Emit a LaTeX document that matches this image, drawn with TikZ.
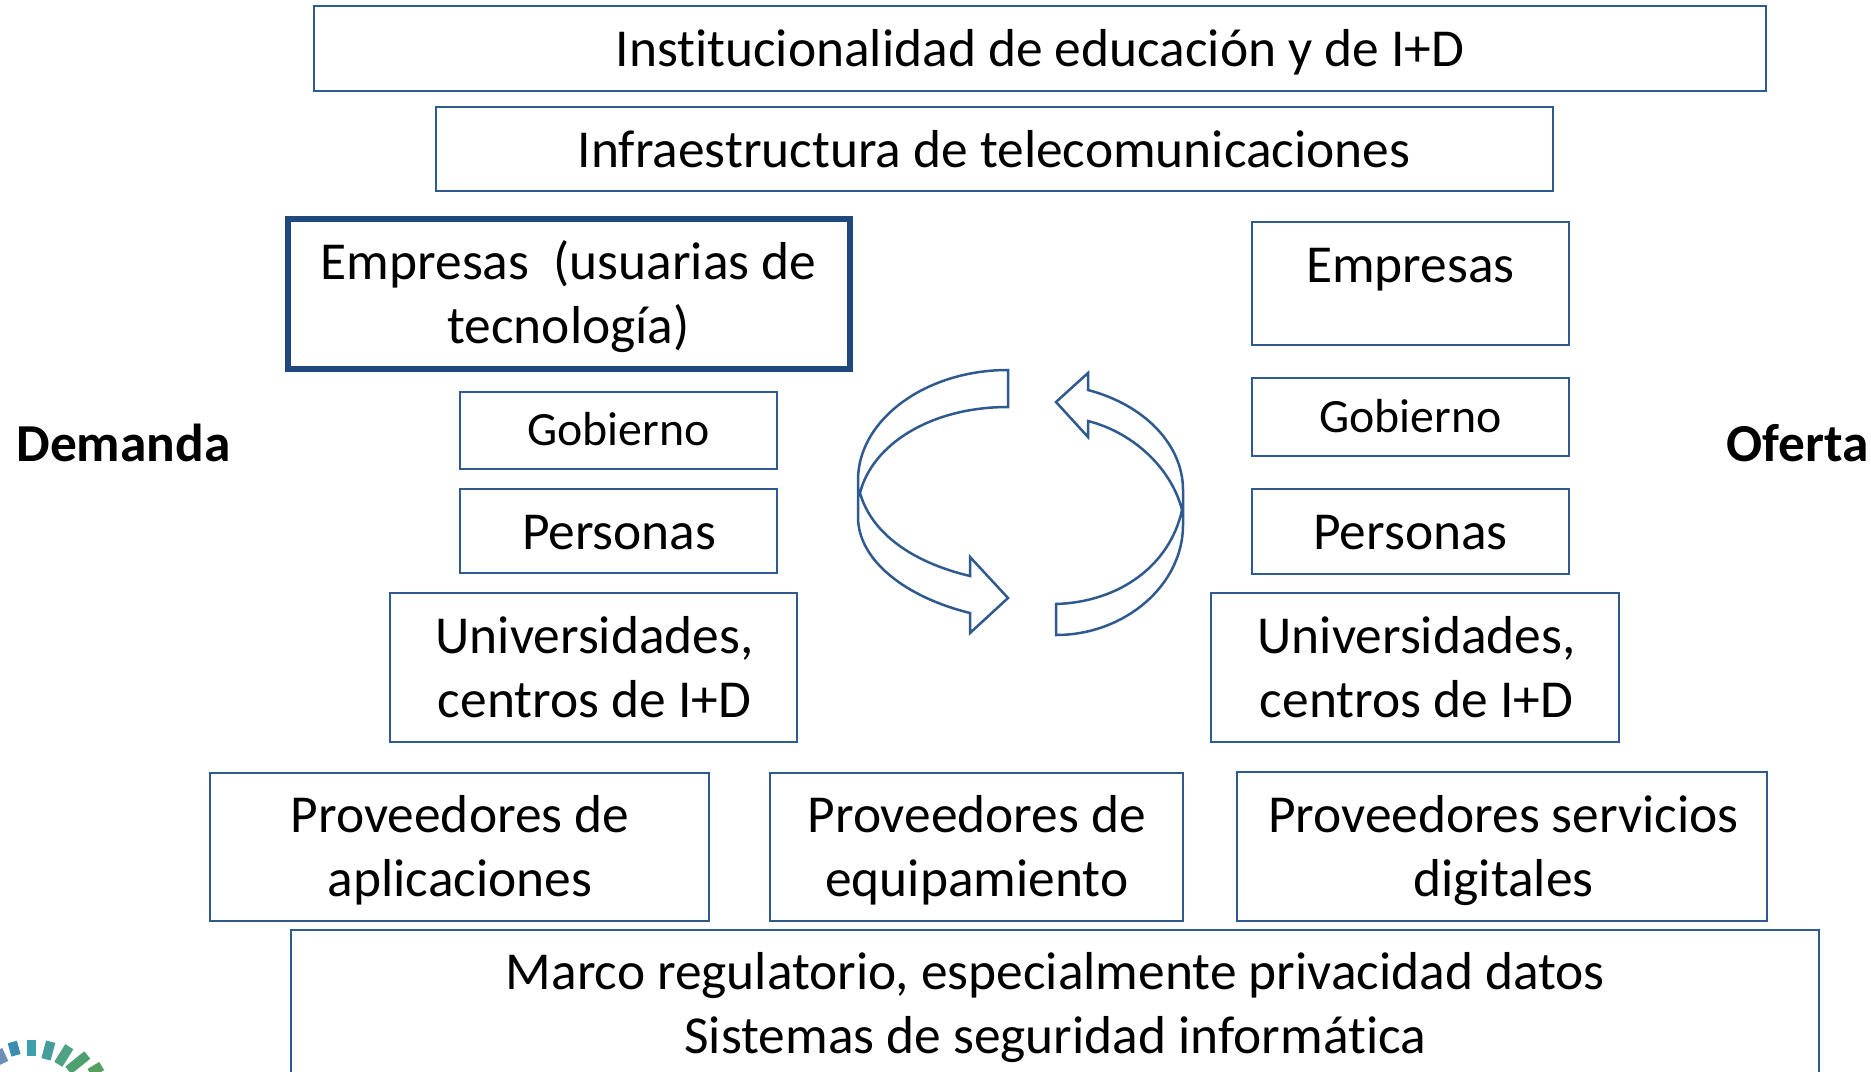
\documentclass[tikz,border=0pt]{standalone}
\usepackage{fontspec}
\setmainfont[Ligatures=NoCommon]{Carlito}
\definecolor{bl}{HTML}{2F5A8F}
\definecolor{blt}{HTML}{1F497D}
\tikzset{x=1pt,y=-1pt,
 box/.style={draw=bl,line width=2pt,fill=white,inner sep=0pt},
 txt/.style={inner sep=0pt,align=center,text=black,font=\fontsize{53.4}{64}\selectfont},
 smalltxt/.style={txt,font=\fontsize{47.8}{58}\selectfont},
 side/.style={text=black,inner sep=0pt,font=\bfseries\fontsize{53.4}{64}\selectfont},
 turn/.style={draw=bl,line width=2.5pt,fill=white,line join=miter},
 tick/.style={line width=9.5pt}}
\begin{document}
\begin{tikzpicture}
\clip (0,0) rectangle (1871,1071);
\fill[white] (0,0) rectangle (1871,1071);
\node[box,minimum width=1452pt,minimum height=85pt,label={[txt,yshift=-3.6pt]center:Institucionalidad de educación y de I+D}] (inst) at (1040,48.5) {};
\node[box,minimum width=1117pt,minimum height=84pt,label={[txt]center:Infraestructura de telecomunicaciones}] (infra) at (994,149) {};
\node[box,draw=blt,line width=6pt,minimum width=562pt,minimum height=149.5pt,label={[txt,yshift=-2.5pt]center:Empresas\ \ (usuarias de\\tecnología)}] (empL) at (568.5,294) {};
\node[box,minimum width=317.5pt,minimum height=76.5pt,label={[smalltxt,yshift=1.4pt]center:Gobierno}] (gobL) at (618.25,430.5) {};
\node[box,minimum width=317.5pt,minimum height=84pt,label={[txt,yshift=-2pt,xshift=1pt]center:Personas}] (perL) at (618.25,531) {};
\node[box,minimum width=407pt,minimum height=149pt,label={[txt,xshift=1pt]center:Universidades,\\centros de I+D}] (uniL) at (593.5,667.5) {};
\node[box,minimum width=317pt,minimum height=123pt,label={[txt,yshift=14pt]center:Empresas}] (empR) at (1410.5,283.5) {};
\node[box,minimum width=317pt,minimum height=78pt,label={[smalltxt,yshift=1pt]center:Gobierno}] (gobR) at (1410.5,417) {};
\node[box,minimum width=317pt,minimum height=85pt,label={[txt,yshift=-1pt]center:Personas}] (perR) at (1410.5,531.5) {};
\node[box,minimum width=408pt,minimum height=149pt,label={[txt,xshift=1.5pt]center:Universidades,\\centros de I+D}] (uniR) at (1415,667.5) {};
\node[box,minimum width=499pt,minimum height=148pt,label={[txt,yshift=-3pt,xshift=.5pt]center:Proveedores de\\aplicaciones}] (pa) at (459.5,847) {};
\node[box,minimum width=412.5pt,minimum height=148pt,label={[txt,yshift=-3pt,xshift=.5pt]center:Proveedores de\\equipamiento}] (pe) at (976.25,847) {};
\node[box,minimum width=530pt,minimum height=149pt,label={[txt,yshift=-4pt,xshift=1.5pt]center:Proveedores servicios\\digitales}] (ps) at (1502,846.5) {};
\node[box,minimum width=1527.5pt,minimum height=155pt,label={[txt,yshift=-1pt,xshift=.5pt]center:Marco regulatorio, especialmente privacidad datos\\Sistemas de seguridad informática}] (marco) at (1054.75,1007) {};
\node[side] (dem) at (123.5,443) {Demanda};
\node[side] (ofe) at (1798,443) {Oferta};
% circular arrows
\draw[turn] (1008,370) .. controls (925,370) and (858,420) .. (858,480) -- (858,517)
  .. controls (858,560) and (905,597) .. (970,613) -- (970,633) -- (1008,598) -- (970,557) -- (970,576)
  .. controls (915,563) and (872,535) .. (860,493) .. controls (872,445) and (930,407) .. (1008,407) -- cycle;
\draw[turn] (1088,390) .. controls (1145,405) and (1183,445) .. (1183,490) -- (1183,525)
  .. controls (1183,585) and (1125,635) .. (1056,635) -- (1056,604)
  .. controls (1120,602) and (1170,565) .. (1182,510) .. controls (1172,470) and (1135,433) .. (1088,421)
  -- (1088,437) -- (1056,402) -- (1088,373) -- cycle;
% logo fragment
\draw[tick,color={rgb,255:red,110;green,143;blue,181}] (-2,1050) -- (4,1063);
\draw[tick,color={rgb,255:red,58;green,143;blue,176}] (12.3,1042) -- (16,1055.3);
\draw[tick,color={rgb,255:red,63;green,159;blue,176}] (31.7,1040.3) -- (31.7,1056);
\draw[tick,color={rgb,255:red,70;green,156;blue,156}] (50.7,1041.7) -- (46,1059.3);
\draw[tick,color={rgb,255:red,79;green,162;blue,131}] (69.3,1046.7) -- (58.3,1064.3);
\draw[tick,color={rgb,255:red,79;green,160;blue,112}] (87.3,1055) -- (68.3,1070.3);
\draw[tick,color={rgb,255:red,85;green,160;blue,96}] (101.7,1066) -- (90,1073);
\end{tikzpicture}
\end{document}
